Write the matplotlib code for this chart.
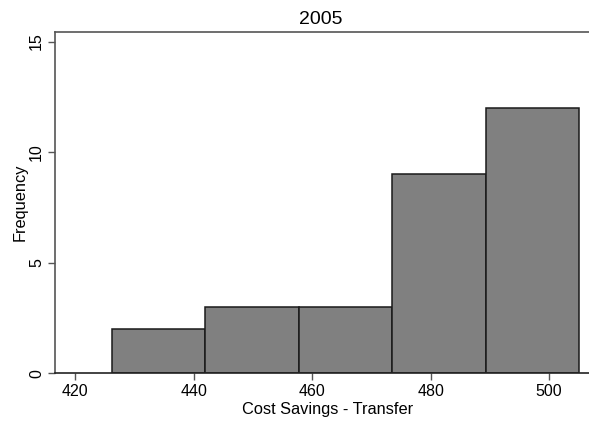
import numpy as np
import matplotlib
matplotlib.use("Agg")
import matplotlib.pyplot as plt

# bin edges and counts of the savings histogram
bin_edges = [426.2, 442.0, 457.8, 473.5, 489.3, 505.1]
counts = [2, 3, 3, 9, 12]
x_ticks = [420, 440, 460, 480, 500]
y_ticks = [0, 5, 10, 15]

plt.rcParams['font.family'] = ['Liberation Sans', 'DejaVu Sans']

fig = plt.figure(figsize=(5.89, 4.21), dpi=100)
# plot region runs a little past the right edge of the figure
ax = fig.add_axes([55 / 589, (421 - 373.3) / 421, 545 / 589, 341.3 / 421])

widths = np.diff(bin_edges)
ax.bar(bin_edges[:-1], counts, width=widths, align='edge',
       color='#808080', edgecolor='#1a1a1a', linewidth=1.1)

ax.set_xlim(416.6, 508.6)
ax.set_ylim(0, 15.43)
ax.set_xticks(x_ticks)
ax.set_yticks(y_ticks)
ax.tick_params(axis='both', length=5, width=1, color='#555555', labelsize=11.5,
               pad=3)
plt.setp(ax.get_yticklabels(), rotation=90, va='center')

for side in ['left', 'top', 'bottom']:
    ax.spines[side].set_color('#555555')
    ax.spines[side].set_linewidth(1.2)
ax.spines['bottom'].set_color('#222222')
ax.spines['right'].set_visible(False)

ax.set_xlabel("Cost Savings - Transfer", fontsize=11.8, labelpad=2)
ax.set_ylabel("Frequency", fontsize=11.8, labelpad=1)
ax.set_title("2005", fontsize=14, x=0.488, pad=6)

fig.savefig("out.png", dpi=100)
